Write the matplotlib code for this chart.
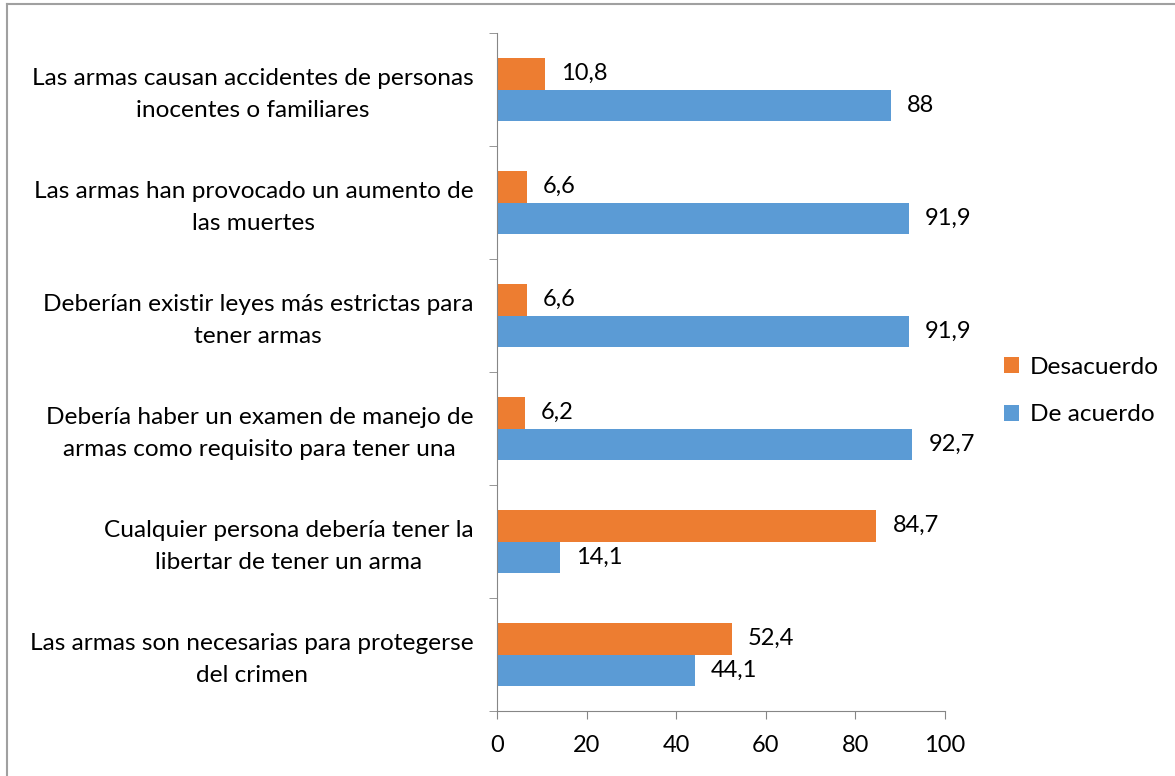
import numpy as np
import matplotlib
matplotlib.use('Agg')
import matplotlib.pyplot as plt
from matplotlib.lines import Line2D

plt.rcParams['font.family'] = ['Lato', 'DejaVu Sans']

categories = [
    'Las armas causan accidentes de personas\ninocentes o familiares',
    'Las armas han provocado un aumento de\nlas muertes',
    'Deberían existir leyes más estrictas para\ntener armas',
    'Debería haber un examen de manejo de\narmas como requisito para tener una',
    'Cualquier persona debería tener la\nlibertar de tener un arma',
    'Las armas son necesarias para protegerse\ndel crimen',
]
desacuerdo = [10.8, 6.6, 6.6, 6.2, 84.7, 52.4]
de_acuerdo = [88, 91.9, 91.9, 92.7, 14.1, 44.1]
x_ticks = [0, 20, 40, 60, 80, 100]

orange = '#ED7D31'
blue = '#5B9BD5'
axis_col = '#868686'
fs_lab = 17.6
fs_num = 17

fig = plt.figure(figsize=(11.75, 7.76), dpi=100)
ax = fig.add_axes([497 / 1175, 1 - 711 / 776, (945 - 497) / 1175, (711 - 33) / 776])

y = np.arange(len(categories))
h = 0.282
b1 = ax.barh(y - h / 2, desacuerdo, h, color=orange, label='Desacuerdo')
b2 = ax.barh(y + h / 2, de_acuerdo, h, color=blue, label='De acuerdo')

for bars, vals in [(b1, desacuerdo), (b2, de_acuerdo)]:
    for bar, v in zip(bars, vals):
        txt = ('%g' % v).replace('.', ',')
        ax.annotate(txt, (v, bar.get_y() + bar.get_height() / 2),
                    xytext=(11.5, 0), textcoords='offset points',
                    va='center', ha='left', fontsize=fs_num)

ax.set_xlim(0, 100)
ax.set_ylim(len(categories) - 0.5, -0.5)
ax.set_xticks(x_ticks)
ax.set_xticklabels([str(t) for t in x_ticks], fontsize=fs_num)
ax.set_yticks(y - 0.02)
ax.set_yticklabels(categories, fontsize=fs_lab, multialignment='center', linespacing=1.65)
ax.set_yticks(np.arange(len(categories) + 1) - 0.5, minor=True)
ax.tick_params(axis='y', which='major', length=0, pad=17)
ax.tick_params(axis='y', which='minor', length=6, color=axis_col, direction='out')
ax.tick_params(axis='x', length=6, color=axis_col, direction='out', pad=11)

for s in ['top', 'right']:
    ax.spines[s].set_visible(False)
for s in ['left', 'bottom']:
    ax.spines[s].set_color(axis_col)

leg = fig.legend(loc='center left',
                 bbox_to_anchor=(982 / 1175, 1 - 391 / 776), frameon=False,
                 fontsize=fs_lab, handlelength=0.6, handleheight=0.6,
                 handletextpad=0.45, labelspacing=1.1)

# outer border (top and left visible)
fig.add_artist(Line2D([7 / 1175, 7 / 1175], [0, 1 - 4 / 776], color='#a0a0a0', lw=1.5,
                      transform=fig.transFigure))
fig.add_artist(Line2D([7 / 1175, 1], [1 - 4 / 776, 1 - 4 / 776], color='#a0a0a0', lw=1.5,
                      transform=fig.transFigure))

fig.savefig('out.png', dpi=100)
